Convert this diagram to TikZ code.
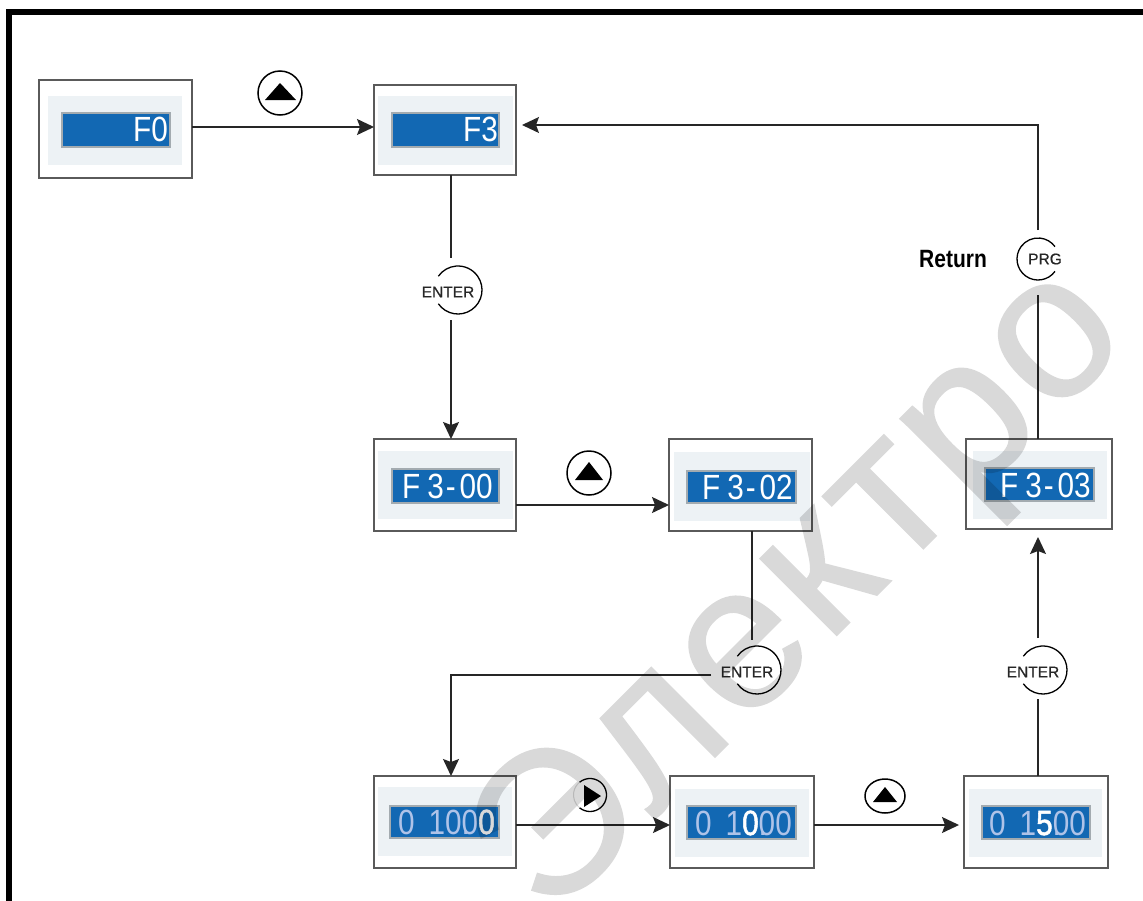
\documentclass[tikz,border=0pt]{standalone}
\usepackage{fontspec}
\usetikzlibrary{arrows.meta,shapes.geometric}
\setmainfont{Liberation Sans}
\newfontfamily\lcdfont[FakeStretch=0.85]{Liberation Sans}
\newfontfamily\btnfont[FakeBold=0.5]{Liberation Sans}
\newfontfamily\wmfont[LetterSpace=3,FakeBold=0.8]{Liberation Sans}
\definecolor{panelc}{HTML}{EDF2F5}
\definecolor{lcdc}{HTML}{1268B3}
\definecolor{lcdedge}{HTML}{A3ABB0}
\definecolor{framec}{HTML}{5A5A5A}
\definecolor{ghostc}{HTML}{AFC3E8}
\definecolor{linec}{HTML}{262626}
\newcommand{\onseg}[1]{{\color{white}\addfontfeature{FakeBold=1.5}#1}}
\newcommand{\fthree}[2]{F\kern7pt 3\kern2pt-\kern4pt #1#2}
\tikzset{
  x=1pt,y=-1pt,
  link/.style={draw=linec,line width=1.3pt},
  arrowlink/.style={link,-{Stealth[length=17pt,width=16pt,inset=3pt]}},
  boxframe/.style={draw=framec,line width=1.5pt,fill=white},
  panel/.style={fill=panelc},
  lcd/.style={fill=lcdc,draw=lcdedge,line width=1.2pt},
  lcdtext/.style={text=white,inner sep=0pt,anchor=base east,font=\lcdfont\fontsize{35}{35}\selectfont},
  ghosttext/.style={lcdtext,text=ghostc},
  btntext/.style={inner sep=0pt,text=linec,font=\btnfont\fontsize{15.5}{16}\selectfont},
  btnarc/.style={draw=black,line width=1.3pt},
  tri/.style={fill=black},
}
\newcommand{\dispbox}[5]{% name, outer x0,y0,x1,y1
  \node[boxframe,minimum width=#4pt-#2pt,minimum height=#5pt-#3pt,inner sep=0pt,outer sep=0pt,anchor=north west] (#1) at (#2,#3) {};}
\begin{document}
\begin{tikzpicture}
\useasboundingbox (0,0) rectangle (1143,900);
\fill[white] (0,0) rectangle (1143,900);
\begin{scope}
\clip (0,0) rectangle (1143,900);
\draw[black,line width=5.5pt] (9,905) -- (9,12) -- (1150,12);

% boxes
\dispbox{f0}{39}{80}{192}{178}
\dispbox{f3}{374}{85}{516}{175}
\dispbox{fa}{374}{439}{516}{531}
\dispbox{fb}{669}{439}{812}{531}
\dispbox{fc}{966}{439}{1112}{529}
\dispbox{va}{374}{776}{516}{868}
\dispbox{vb}{670}{776}{814}{868}
\dispbox{vc}{964}{776}{1108}{868}
% panels
\fill[panel] (48,96) rectangle (182,165);
\fill[panel] (378,96) rectangle (513,165);
\fill[panel] (378,451) rectangle (513,519);
\fill[panel] (674,452) rectangle (810,521);
\fill[panel] (973,451) rectangle (1107,519);
\fill[panel] (378,787) rectangle (512,856);
\fill[panel] (675,789) rectangle (809,857);
\fill[panel] (969,789) rectangle (1102,857);
% lcds
\draw[lcd] (62,113) rectangle (170,147);
\draw[lcd] (392,113) rectangle (499,147);
\draw[lcd] (392,469) rectangle (499,503);
\draw[lcd] (687,471) rectangle (796,503);
\draw[lcd] (985,468) rectangle (1094,501);
\draw[lcd] (390,806) rectangle (499,838);
\draw[lcd] (687,806) rectangle (796,839);
\draw[lcd] (982,806) rectangle (1090,839);
% lcd text
\node[lcdtext] (tf0) at (168,141) {F0};
\node[lcdtext] (tf3) at (498,141) {F3};
\node[lcdtext] (tfa) at (493,498) {\fthree{0}{0}};
\node[lcdtext] (tfb) at (793,499) {\fthree{0}{2}};
\node[lcdtext] (tfc) at (1091,497) {\fthree{0}{3}};
\node[ghosttext] (tva) at (495,834) {0\kern14pt 10\rlap{.}0\onseg{0}};
\node[ghosttext] (tvb) at (792,835) {0\kern14pt 1\onseg{0}\rlap{.}00};
\node[ghosttext] (tvc) at (1086,835) {0\kern14pt 1\onseg{5}\rlap{.}00};

% buttons
\node[btntext] (en1) at (448,292) {ENTER};
\node[btntext] (en2) at (747,672) {ENTER};
\node[btntext] (en3) at (1033,672) {ENTER};
\node[btntext] (prg) at (1045,259) {PRG};
\node[font=\bfseries\fontsize{25}{25}\selectfont,xscale=0.84,inner sep=0pt] (ret) at (953,259) {Return};
\draw[btnarc] (458,290) ++(145:24) arc[start angle=145,end angle=-145,radius=24];
\draw[btnarc] (757,670) ++(145:24) arc[start angle=145,end angle=-145,radius=24];
\draw[btnarc] (1043,670) ++(145:24) arc[start angle=145,end angle=-145,radius=24];
\draw[btnarc] (1038,259) ++(36:21) arc[start angle=36,end angle=324,radius=21];
\node[circle,draw=black,line width=1.5pt,minimum size=44pt,inner sep=0pt] (up1) at (280,93) {};
\node[circle,draw=black,line width=1.5pt,minimum size=44pt,inner sep=0pt] (up2) at (589,473) {};
\node[ellipse,draw=black,line width=1.5pt,minimum width=40pt,minimum height=34pt,inner sep=0pt] (up3) at (885,796) {};
\fill[tri] (265,100) -- (280,83) -- (296,100) -- cycle;
\fill[tri] (575,480) -- (589,462) -- (603,480) -- cycle;
\fill[tri] (873,802) -- (885,787) -- (897,802) -- cycle;
\coordinate (rt) at (590,795);
\draw[btnarc] (rt) ++(-130:16.5) arc[start angle=-130,end angle=130,radius=16.5];
\draw[gray!30,line width=1pt] (rt) ++(130:16.5) arc[start angle=130,end angle=230,radius=16.5];
\fill[tri] (584,785) -- (601,796) -- (584,807) -- cycle;

% connectors
\coordinate (a1) at (451,258);
\coordinate (a2) at (451,320);
\coordinate (b1) at (752,640);
\coordinate (b2) at (711,675);
\coordinate (b3) at (451,675);
\coordinate (c1) at (1038,699);
\coordinate (c2) at (1038,638);
\coordinate (d1) at (1038,295);
\coordinate (d2) at (1038,230);
\coordinate (d3) at (1038,125);
\coordinate (y1) at (0,127);
\coordinate (y2) at (0,505);
\coordinate (y3) at (0,825);
\draw[arrowlink] (f0.east |- y1) -- (f3.west |- y1);
\draw[link] (a1 |- f3.south) -- (a1);
\draw[arrowlink] (a2) -- (a2 |- fa.north);
\draw[arrowlink] (fa.east |- y2) -- (fb.west |- y2);
\draw[link] (b1 |- fb.south) -- (b1);
\draw[arrowlink] (b2) -- (b3) -- (b3 |- va.north);
\draw[arrowlink] (va.east |- y3) -- (vb.west |- y3);
\draw[arrowlink] (vb.east |- y3) -- ([xshift=-5pt]vc.west |- y3);
\draw[link] (c1 |- vc.north) -- (c1);
\draw[arrowlink] (c2) -- ([yshift=-8pt]c2 |- fc.south);
\draw[link] (d1 |- fc.north) -- (d1);
\draw[arrowlink] (d2) -- (d3) -- ([xshift=6pt]d3 -| f3.east);

% watermark
\begin{scope}[transparency group,opacity=0.15]
\node[rotate=45,anchor=base east,text=black,inner sep=0pt,font=\wmfont\fontsize{205}{205}\selectfont] (wm) at (1133,339) {Электро};
\end{scope}
\end{scope}
\end{tikzpicture}
\end{document}
